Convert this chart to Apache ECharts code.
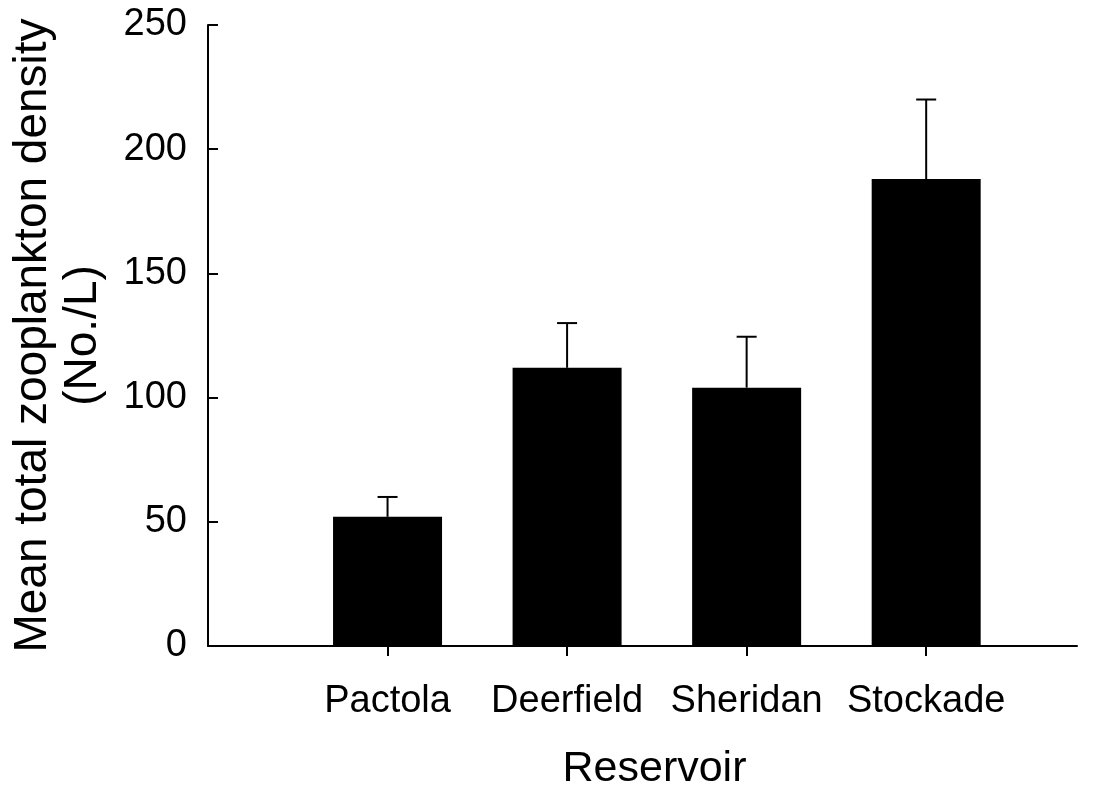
<!DOCTYPE html>
<html>
<head>
<meta charset="utf-8">
<script src="https://cdn.jsdelivr.net/npm/echarts@6/dist/echarts.min.js"></script>
<style>html,body{margin:0;padding:0;background:#fff;}#c{width:1102px;height:796px;}</style>
</head>
<body>
<div id="c"></div>
<script>
const categories = ['Pactola', 'Deerfield', 'Sheridan', 'Stockade'];
const positions = [1, 2, 3, 4];
const means = [52, 112, 104, 188];
const stdErr = [8, 18, 20.5, 32];
const yTicks = [0, 50, 100, 150, 200, 250];

const FONT = '"Liberation Sans", Arial, sans-serif';
const chart = echarts.init(document.getElementById('c'), null, {renderer: 'canvas'});

const barData = positions.map((p, i) => [p, means[i]]);
const errData = positions.map((p, i) => [p, means[i], means[i] + stdErr[i]]);

chart.setOption({
  animation: false,
  backgroundColor: '#fff',
  grid: {left: 208, right: 25, top: 25, bottom: 143, containLabel: false},
  xAxis: {
    type: 'value',
    min: 0, max: 4.84, interval: 1,
    name: 'Reservoir',
    nameLocation: 'middle',
    nameGap: 102,
    nameTextStyle: {fontFamily: FONT, fontSize: 43, color: '#000', padding: [0, 0, 0, 24]},
    axisLine: {show: true, lineStyle: {color: '#000', width: 2}},
    axisTick: {show: true, inside: false, length: 10, customValues: positions, lineStyle: {color: '#000', width: 2}},
    axisLabel: {customValues: positions, margin: 37, fontFamily: FONT, fontSize: 38, color: '#000',
      formatter: v => categories[positions.indexOf(v)] || ''},
    splitLine: {show: false}
  },
  yAxis: {
    type: 'value',
    min: yTicks[0], max: yTicks[yTicks.length - 1], interval: 50,
    name: 'Mean total zooplankton density\n(No./L)',
    nameLocation: 'middle',
    nameGap: 100,
    nameRotate: 90,
    nameTextStyle: {fontFamily: FONT, fontSize: 46, color: '#000', lineHeight: 50, align: 'center'},
    axisLine: {show: true, lineStyle: {color: '#000', width: 2}},
    axisTick: {show: true, inside: true, length: 10, lineStyle: {color: '#000', width: 2}},
    axisLabel: {margin: 21, fontFamily: FONT, fontSize: 38, color: '#000'},
    splitLine: {show: false}
  },
  series: [
    {
      type: 'bar',
      data: barData,
      barWidth: 109,
      itemStyle: {color: '#000'},
      z: 2
    },
    {
      type: 'custom',
      data: errData,
      z: 3,
      renderItem: function (params, api) {
        const x = api.value(0);
        const lo = api.coord([x, api.value(1)]);
        const hi = api.coord([x, api.value(2)]);
        const half = 10;
        return {
          type: 'group',
          children: [
            {type: 'line', shape: {x1: lo[0], y1: lo[1], x2: hi[0], y2: hi[1]}, style: {stroke: '#000', lineWidth: 2}},
            {type: 'line', shape: {x1: hi[0] - half, y1: hi[1], x2: hi[0] + half, y2: hi[1]}, style: {stroke: '#000', lineWidth: 2}}
          ]
        };
      }
    }
  ]
});
</script>
</body>
</html>
